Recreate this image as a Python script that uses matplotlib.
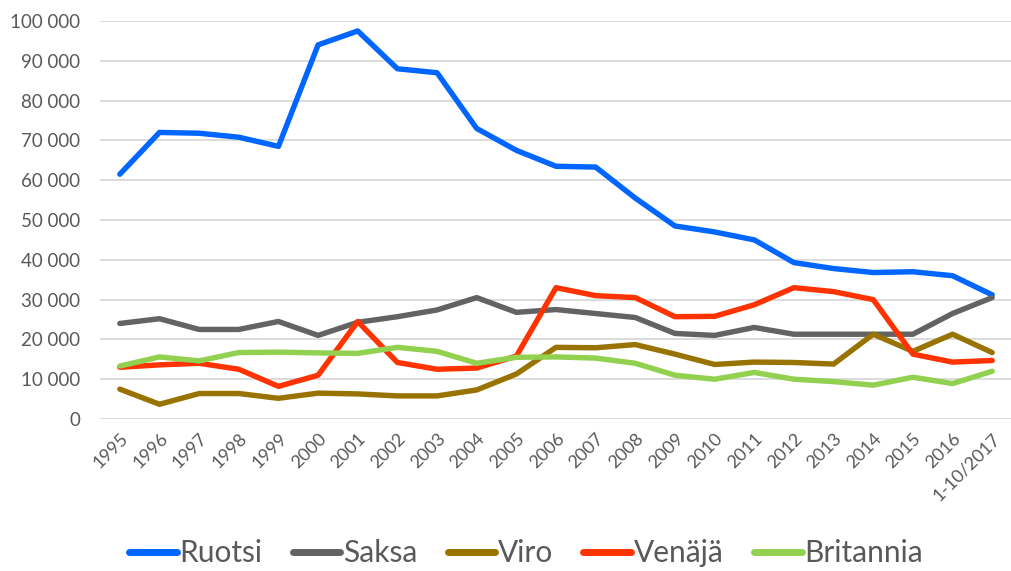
import matplotlib
matplotlib.use("Agg")
import matplotlib.pyplot as plt
from matplotlib.ticker import FuncFormatter

years = ["1995", "1996", "1997", "1998", "1999", "2000", "2001", "2002", "2003",
         "2004", "2005", "2006", "2007", "2008", "2009", "2010", "2011", "2012",
         "2013", "2014", "2015", "2016", "1-10/2017"]

ruotsi = [61500, 72000, 71800, 70800, 68500, 94000, 97500, 88000, 87000, 73000,
          67500, 63500, 63300, 55500, 48500, 47000, 45000, 39300, 37800, 36800,
          37000, 36000, 31200]
saksa = [24000, 25200, 22500, 22500, 24500, 21000, 24300, 25700, 27400, 30500,
         26800, 27500, 26500, 25500, 21500, 21000, 23000, 21300, 21300, 21300,
         21300, 26500, 30500]
viro = [7500, 3700, 6400, 6400, 5200, 6500, 6300, 5800, 5800, 7300,
        11300, 18000, 17900, 18700, 16300, 13700, 14300, 14200, 13800, 21300,
        17000, 21300, 16700]
venaja = [13000, 13600, 14000, 12500, 8200, 11000, 24500, 14200, 12500, 12800,
          15800, 33000, 31000, 30500, 25700, 25800, 28700, 33000, 32000, 30000,
          16300, 14300, 14700]
britannia = [13300, 15600, 14600, 16700, 16800, 16600, 16500, 18000, 17000, 14000,
             15500, 15600, 15300, 14000, 11000, 10000, 11700, 10000, 9400, 8500,
             10500, 8900, 12000]

series = [
    ("Ruotsi", ruotsi, "#0066ff"),
    ("Saksa", saksa, "#636363"),
    ("Viro", viro, "#997300"),
    ("Venäjä", venaja, "#ff3300"),
    ("Britannia", britannia, "#92d050"),
]

plt.rcParams['font.family'] = ['Lato', 'DejaVu Sans']
text_col = "#595959"

fig = plt.figure(figsize=(10.12, 5.71), dpi=100)
ax = fig.add_axes([100 / 1012, 1 - 419 / 571, 912 / 1012, 398 / 571])

x = list(range(len(years)))
for name, vals, col in series:
    ax.plot(x, vals, color=col, lw=3.9, label=name, solid_joinstyle="round",
            solid_capstyle="round")

ax.set_ylim(0, 100000)
ax.set_xlim(-0.5, len(years) - 0.5)
ax.set_yticks(range(0, 100001, 10000))
ax.yaxis.set_major_formatter(FuncFormatter(lambda v, p: f"{int(v):,}".replace(",", " ")))
ax.grid(axis="y", color="#d9d9d9", lw=1.3)
ax.set_axisbelow(True)
for s in ax.spines.values():
    s.set_visible(False)
ax.tick_params(axis="y", length=0, pad=14, labelsize=13.5, labelcolor=text_col)
ax.set_xticks(x)
ax.set_xticklabels(years, rotation=45, ha="right", rotation_mode="anchor")
ax.tick_params(axis="x", length=0, pad=8, labelsize=13, labelcolor=text_col)

leg = fig.legend(loc="center", bbox_to_anchor=(0.52, 1 - 553 / 571), ncol=5,
                 frameon=False, fontsize=21.5, handlelength=1.6, handletextpad=0.1,
                 columnspacing=1.0, labelcolor=text_col)
for line in leg.get_lines():
    line.set_linewidth(5)

fig.savefig("out.png", dpi=100)
